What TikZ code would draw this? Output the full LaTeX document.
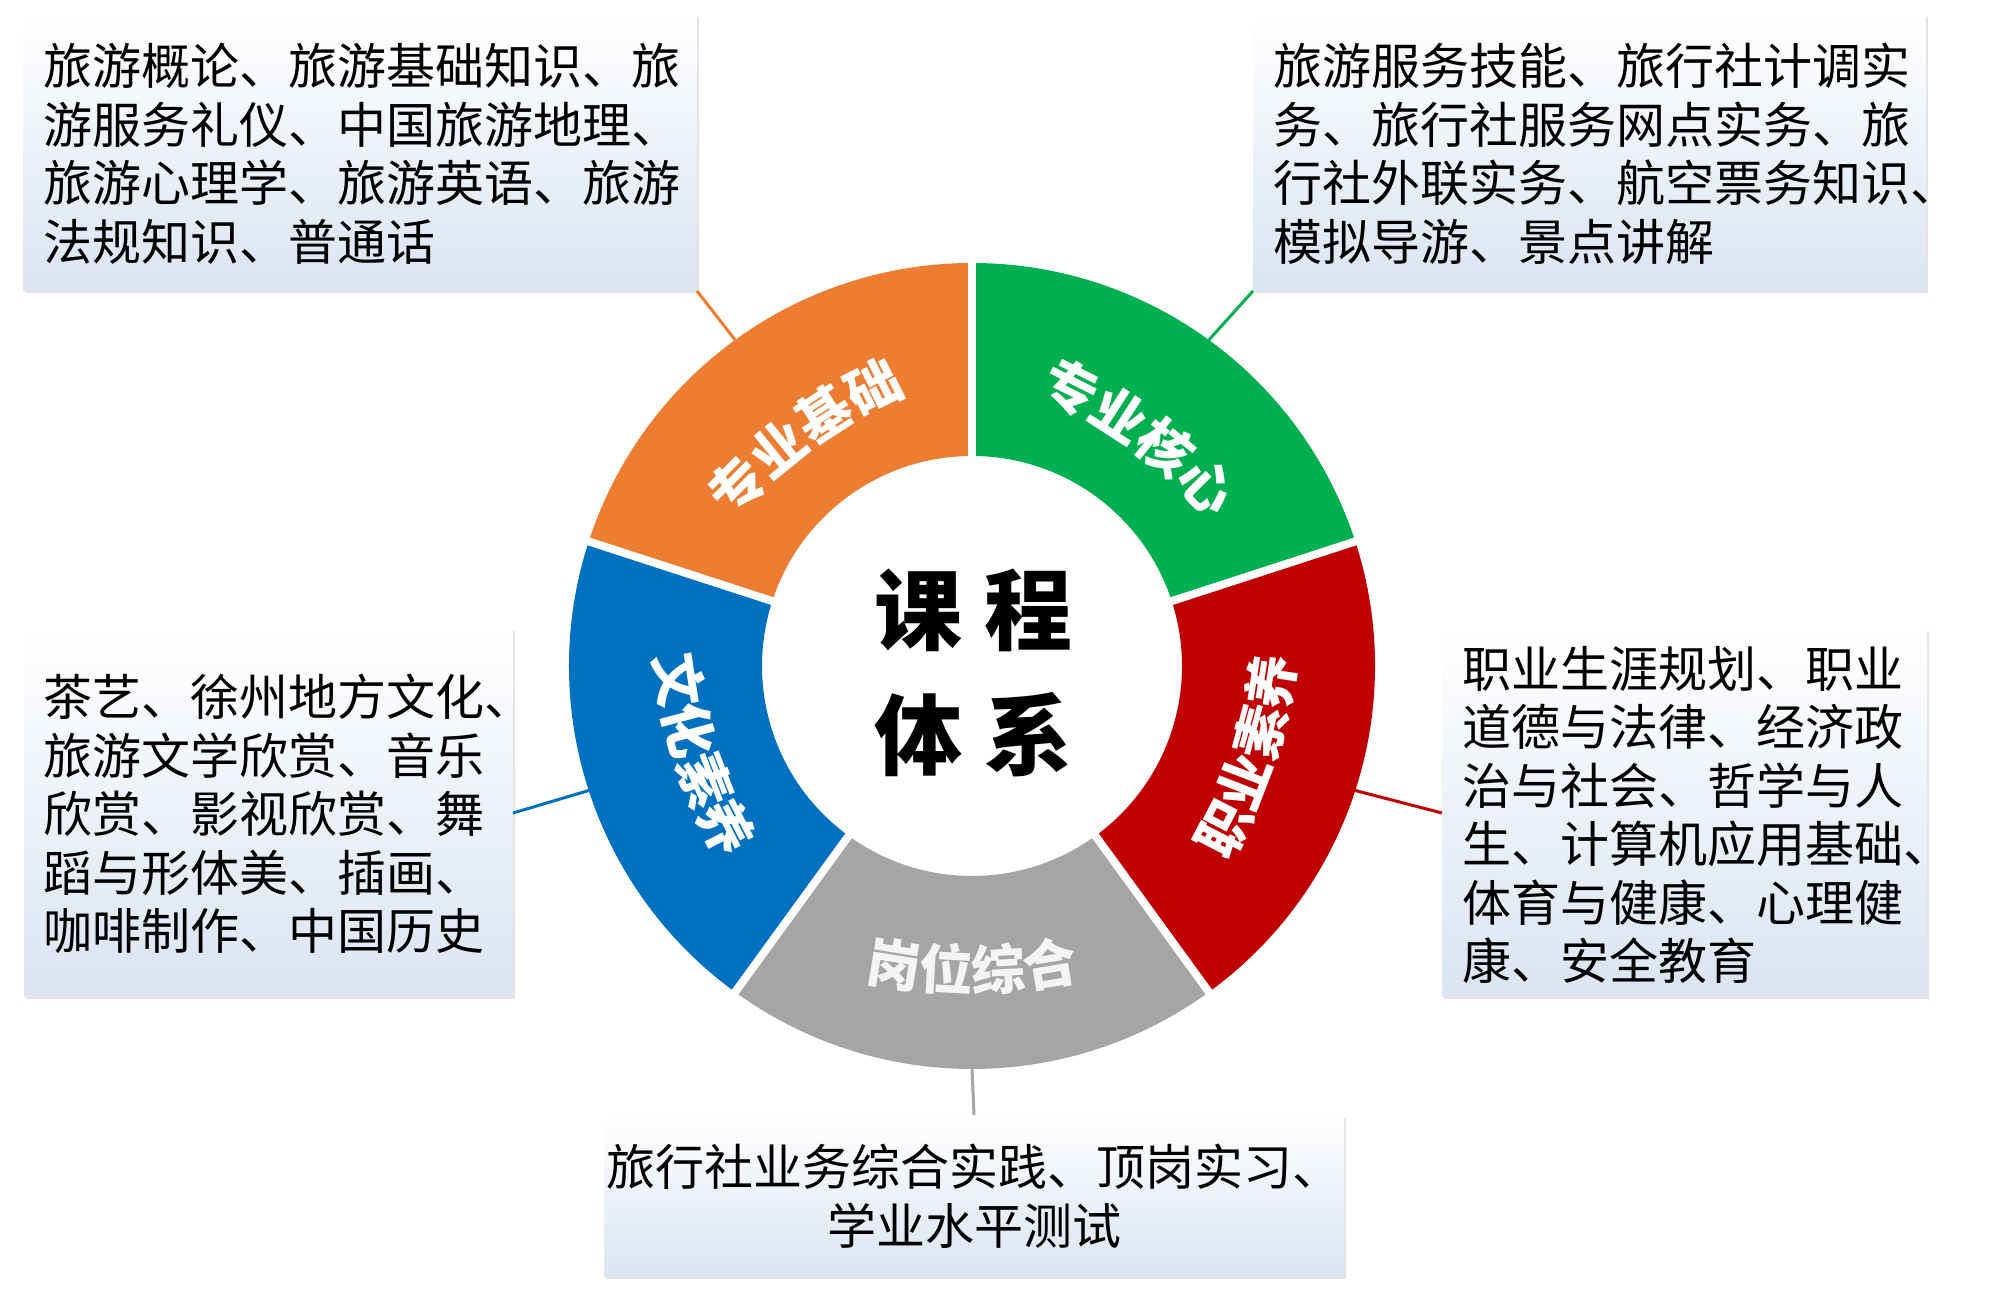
\documentclass[tikz,border=0pt]{standalone}
\usepackage{fontspec}
\newfontfamily\cjk{Noto Sans CJK SC}
\usetikzlibrary{shadows,decorations.text}
\definecolor{cOrange}{HTML}{ED7D31}
\definecolor{cGreen}{HTML}{00B050}
\definecolor{cRed}{HTML}{C00000}
\definecolor{cBlue}{HTML}{0070C0}
\definecolor{cGrey}{HTML}{A5A5A5}
\definecolor{boxBlue}{HTML}{DAE4F2}
\definecolor{lblGrey}{HTML}{F4F4F4}
\newcommand\lblfont{\cjk\bfseries\fontsize{27pt}{27pt}\selectfont}
\tikzset{
  infobox/.style={inner sep=0pt, outer sep=0pt, top color=white, bottom color=boxBlue,
    drop shadow={shadow xshift=0.8pt, shadow yshift=-0.8pt, opacity=0.22}},
  infotext/.style={font=\cjk\fontsize{24.5pt}{29.25pt}\selectfont, align=left, inner sep=0pt, text=black},
  link/.style={line width=1.5pt},
  gapline/.style={white, line width=4pt},
  ringlabel/.style={decorate, decoration={text along path, text align=center, text color=#1}},
}
\begin{document}
\begin{tikzpicture}[x=0.5pt,y=0.5pt]
\useasboundingbox (0,0) rectangle (2000,1294);
\fill[white] (0,0) rectangle (2000,1294);

% ring
\begin{scope}[shift={(972,628)}]
  \fill[cOrange] (90:210) arc[start angle=90,end angle=162,radius=210] -- (162:403) arc[start angle=162,end angle=90,radius=403] -- cycle;
  \fill[cGreen] (18:210) arc[start angle=18,end angle=90,radius=210] -- (90:403) arc[start angle=90,end angle=18,radius=403] -- cycle;
  \fill[cRed] (-54:210) arc[start angle=-54,end angle=18,radius=210] -- (18:403) arc[start angle=18,end angle=-54,radius=403] -- cycle;
  \fill[cGrey] (-126:210) arc[start angle=-126,end angle=-54,radius=210] -- (-54:403) arc[start angle=-54,end angle=-126,radius=403] -- cycle;
  \fill[cBlue] (162:210) arc[start angle=162,end angle=234,radius=210] -- (234:403) arc[start angle=234,end angle=162,radius=403] -- cycle;
  \foreach \a in {90,18,-54,-126,162} \draw[gapline] (\a:195) -- (\a:415);
  \coordinate (oA) at (126:403);
  \coordinate (oB) at (54:403);
  \coordinate (oD) at (-18:403);
  \coordinate (oE) at (-90:403);
  \coordinate (oC) at (198:403);
  % ring labels
  \path[ringlabel=white, decoration={text={|\lblfont|专业基础}}] ([shift={(126:-230)}]156:500) arc[start angle=156,end angle=96,radius=500];
  \path[ringlabel=white, decoration={text={|\lblfont|专业核心}}] ([shift={(54:-230)}]84:500) arc[start angle=84,end angle=24,radius=500];
  \path[ringlabel=white, decoration={text={|\lblfont|职业素养}}] ([shift={(-18:-184)}]-48:500) arc[start angle=-48,end angle=12,radius=500];
  \path[ringlabel=lblGrey, decoration={text={|\lblfont|岗位综合}}] ([shift={(-90:-175)}]-120:500) arc[start angle=-120,end angle=-60,radius=500];
  \path[ringlabel=white, decoration={text={|\lblfont|文化素养}}] ([shift={(198:-190)}]168:500) arc[start angle=168,end angle=228,radius=500];
\end{scope}

% title
\node[font=\cjk\bfseries\fontsize{44pt}{62.5pt}\selectfont, align=center, inner sep=0pt] (title) at (973,621) {课\hspace{11pt}程\\体\hspace{11pt}系};

% boxes
\node[infobox, minimum width=337pt, minimum height=138pt] (boxA) at (360,1141) {};
\node[infobox, minimum width=336.5pt, minimum height=138pt] (boxB) at (1589.5,1141) {};
\node[infobox, minimum width=244.5pt, minimum height=184pt] (boxC) at (268.5,481) {};
\node[infobox, minimum width=242.5pt, minimum height=184pt] (boxD) at (1684.5,481) {};
\node[infobox, minimum width=370pt, minimum height=81pt] (boxE) at (974,98) {};

% links
\draw[link,cOrange] (oA) -- (boxA.south east);
\draw[link,cGreen] (oB) -- (boxB.south west);
\draw[link,cRed] (oD) -- (boxD.west);
\draw[link,cBlue] (oC) -- (boxC.east);
\draw[link,cGrey] (oE) -- (boxE.north);

% texts
\node[infotext, anchor=west] (txtA) at (43,1140) {旅游概论、旅游基础知识、旅\\游服务礼仪、中国旅游地理、\\旅游心理学、旅游英语、旅游\\法规知识、普通话};
\node[infotext, anchor=west] (txtB) at (1273,1140) {旅游服务技能、旅行社计调实\\务、旅行社服务网点实务、旅\\行社外联实务、航空票务知识、\\模拟导游、景点讲解};
\node[infotext, anchor=west] (txtC) at (43,480) {茶艺、徐州地方文化、\\旅游文学欣赏、音乐\\欣赏、影视欣赏、舞\\蹈与形体美、插画、\\咖啡制作、中国历史};
\node[infotext, anchor=west] (txtD) at (1462,479) {职业生涯规划、职业\\道德与法律、经济政\\治与社会、哲学与人\\生、计算机应用基础、\\体育与健康、心理健\\康、安全教育};
\node[infotext, align=center] (txtE) at (974,98) {旅行社业务综合实践、顶岗实习、\\学业水平测试};
\end{tikzpicture}
\end{document}
